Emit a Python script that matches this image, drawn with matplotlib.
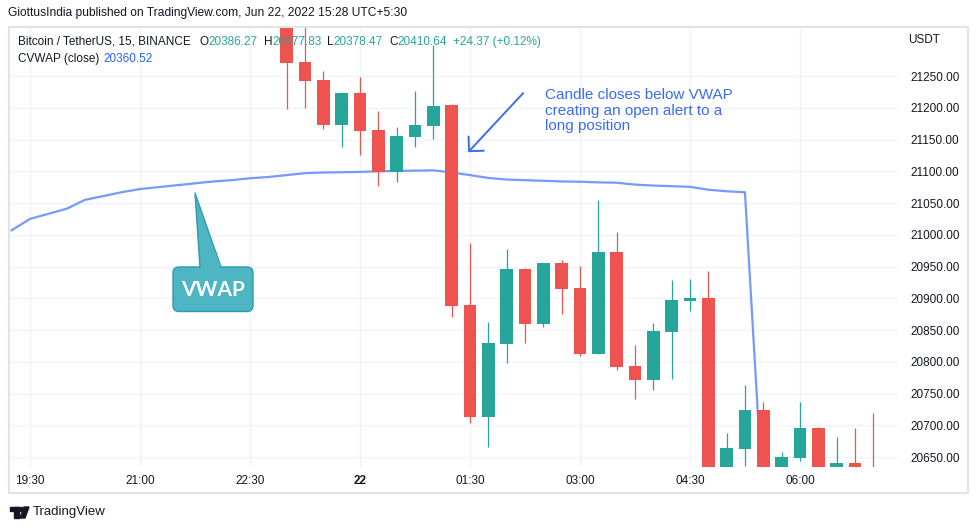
import numpy as np
import matplotlib
matplotlib.use("Agg")
import matplotlib.pyplot as plt
from matplotlib.patches import FancyBboxPatch, Polygon, Rectangle, Circle
from matplotlib.transforms import Affine2D

plt.rcParams['font.family'] = ['Liberation Sans', 'DejaVu Sans']

# 15 min candles, bar 0 = 19:30 (Jun 21)
first_bar = 14
opens = [21345, 21272, 21244, 21173, 21224, 21165, 21099, 21154, 21171, 21204,
         20889, 20713, 20828, 20946, 20859, 20955, 20916, 20813, 20973, 20793,
         20772, 20847, 20896, 20900, 20612, 20663, 20724, 20615, 20649, 20696,
         20625, 20641, 20620]
highs = [21362, 21340, 21258, 21225, 21249, 21195, 21170, 21227, 21299, 21206,
         20987, 20863, 20978, 20947, 20956, 20960, 20951, 21055, 21004, 20826,
         20861, 20929, 20930, 20943, 20688, 20763, 20737, 20658, 20737, 20697,
         20681, 20696, 20719]
lows = [21198, 21200, 21167, 21139, 21126, 21077, 21083, 21139, 21151, 20871,
        20704, 20666, 20798, 20830, 20854, 20876, 20809, 20812, 20787, 20742,
        20756, 20773, 20880, 20598, 20600, 20636, 20600, 20605, 20643, 20610,
        20615, 20600, 20580]
closes = [21271, 21242, 21173, 21224, 21164, 21099, 21155, 21173, 21203, 20888,
          20713, 20830, 20946, 20859, 20955, 20915, 20813, 20973, 20792, 20772,
          20848, 20897, 20900, 20612, 20664, 20724, 20615, 20650, 20696, 20625,
          20641, 20610, 20595]

vwap_start = -1
vwap = [21007, 21025, 21033, 21041, 21055, 21061, 21067, 21072, 21075, 21078,
        21081, 21084, 21086, 21089, 21091, 21094, 21097, 21098, 21098.5, 21099,
        21100, 21100.5, 21101, 21101.5, 21098, 21094, 21089.5, 21087, 21086, 21085,
        21084, 21083.5, 21082.5, 21082, 21079, 21077.5, 21076.5, 21075.5, 21071, 21068.5,
        21067, 20573]

time_bars = [0, 6, 12, 18, 24, 30, 36, 42]
time_labels = ["19:30", "21:00", "22:30", "22", "01:30", "03:00", "04:30", "06:00"]
price_ticks = list(range(20650, 21251, 50))

up = '#26a69a'
down = '#ef5350'
txt = '#131722'

W, H = 979, 530
fig = plt.figure(figsize=(W / 100, H / 100), dpi=100)
pix = Affine2D().scale(1, -1).translate(0, H)  # pixel coords, origin top-left

ax = fig.add_axes([10 / W, 1 - 467 / H, (898 - 10) / W, (467 - 27) / H])
ax.set_xlim(-1.09, 47.35)
ax.set_ylim(20634.3, 21327.2)

vx = np.arange(len(vwap)) + vwap_start
ax.plot(vx, vwap, color='#7699fa', lw=1.6, zorder=2)

bars = np.arange(len(opens)) + first_bar
for x, o, h, l, c in zip(bars, opens, highs, lows, closes):
    col = up if c >= o else down
    ax.vlines(x, l, h, color=col, lw=0.9, zorder=3)
    ax.bar(x, max(abs(c - o), 3), bottom=min(o, c), width=0.7, color=col, zorder=4)

ax.set_xticks(time_bars, time_labels)
ax.set_yticks(price_ticks, ["%.2f" % p for p in price_ticks])
ax.yaxis.tick_right()
ax.tick_params(axis='x', length=0, pad=6, labelsize=8.5, labelcolor=txt)
ax.tick_params(axis='y', length=0, pad=9, labelsize=8.5, labelcolor=txt)
ax.get_xticklabels()[3].set_fontweight('bold')
ax.grid(color='#f0f3fa', lw=1)
ax.set_axisbelow(True)
for s in ax.spines.values():
    s.set_visible(False)

# arrow + note
ax.annotate('', xy=(23.9, 21130), xytext=(26.9, 21223),
            arrowprops=dict(arrowstyle='->,head_length=0.75,head_width=0.75', color='#3a6cf4',
                            lw=1.4, mutation_scale=10, shrinkA=0, shrinkB=0), zorder=6)
ax.text(28.1, 21231, "Candle closes below VWAP\ncreating an open alert to a\nlong position",
        color='#3a6cf4', fontsize=11, va='top', linespacing=1.13, zorder=6)

# VWAP callout
box = FancyBboxPatch((173, 267), 80, 44.5, boxstyle='round,pad=0,rounding_size=6',
                     transform=pix, facecolor='#4db6c2', edgecolor='#2b9ca8', lw=1, zorder=5)
fig.add_artist(box)
fig.add_artist(Polygon([(200, 269), (195, 193), (221, 269)], closed=True, transform=pix,
                       facecolor='#4db6c2', edgecolor='none', zorder=6))
fig.add_artist(plt.Line2D([200, 195, 221], [267, 193, 267], transform=pix, color='#2b9ca8', lw=1, zorder=7))
fig.text(213 / W, 1 - 290 / H, "VWAP", color='white', fontsize=15, fontweight='bold',
         family='Lato', ha='center', va='center', zorder=8)

# chart frame
fig.add_artist(Rectangle((9, 27), 959, 466, transform=pix, fill=False, edgecolor='#e0e3eb', lw=1.5))

# legend texts
fig.text(8 / W, 1 - 13 / H, "GiottusIndia published on TradingView.com, Jun 22, 2022 15:28 UTC+5:30",
         color=txt, fontsize=8.65, va='center')
row2 = [(18, "Bitcoin / TetherUS, 15, BINANCE", txt), (200, "O", txt), (208, "20386.27", up),
        (264, "H", txt), (272, "20477.83", up), (327, "L", txt), (333, "20378.47", up),
        (389, "C", txt), (397, "20410.64", up), (453, "+24.37 (+0.12%)", up)]
for x, s, c in row2:
    fig.text(x / W, 1 - 42 / H, s, color=c, fontsize=8.5, va='center', zorder=10)
fig.text(18 / W, 1 - 59 / H, "CVWAP (close)", color=txt, fontsize=8.5, va='center', zorder=10)
fig.text(103 / W, 1 - 59 / H, "20360.52", color='#2962ff', fontsize=8.5, va='center', zorder=10)
fig.text(908 / W, 1 - 40 / H, "USDT", color=txt, fontsize=8.5, va='center')

# TradingView logo
fig.add_artist(Rectangle((10, 507), 9, 4, transform=pix, color=txt))
fig.add_artist(Rectangle((14, 507), 5, 11, transform=pix, color=txt))
fig.add_artist(Circle((21.5, 509.5), 2, transform=pix, color=txt))
fig.add_artist(Polygon([(24, 507), (29, 507), (25, 518), (20, 518)], transform=pix, color=txt))
fig.text(33 / W, 1 - 512 / H, "TradingView", color=txt, fontsize=9.5, va='center')

fig.savefig("out.png", dpi=100)
